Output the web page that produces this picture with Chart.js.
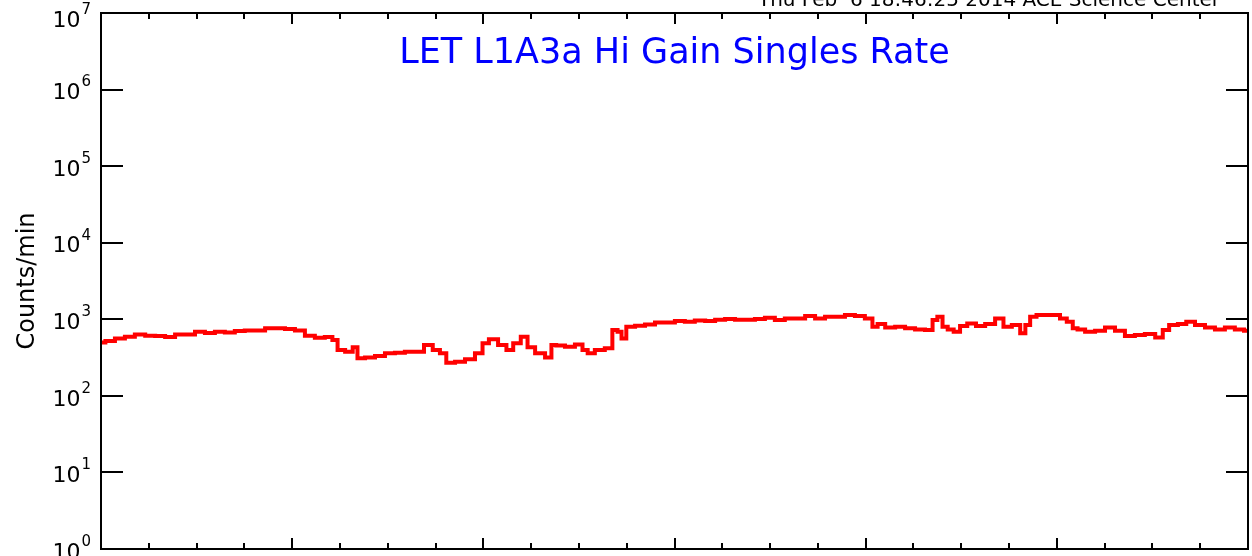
<!DOCTYPE html>
<html>
<head>
<meta charset="utf-8">
<script src="https://cdn.jsdelivr.net/npm/chart.js@4"></script>
<style>
  body { margin: 0; background: #fff; }
  #wrap { width: 1252px; height: 556px; }
</style>
</head>
<body>
<div id="wrap"><canvas id="chart" width="1252" height="556"></canvas></div>
<script>
/* hours since start of plot window */
const hours = [
  0, 1.1, 2.4, 3.6, 4.9, 6.2, 7.4, 8.7, 9.9, 11.2, 12.4, 13.7, 14.9, 16.2, 17.4, 18.7,
  20.0, 21.2, 22.5, 23.7, 25.0, 26.2, 27.5, 28.7, 29.4, 30.0, 31.3, 31.9, 32.5, 33.8,
  35.0, 36.3, 37.5, 38.8, 40.0, 41.1, 42.2, 42.9, 43.8, 45.1, 46.3, 47.6, 48.2, 49.2,
  50.5, 51.3, 52.2, 53.2, 53.9, 55.1, 56.4, 56.7, 57.6, 58.9, 60.1, 60.8, 61.4, 62.6,
  63.9, 64.5, 65.2, 65.5, 66.4, 67.7, 68.9, 70.2, 71.4, 72.7, 73.9, 75.2, 76.5, 77.7,
  79.0, 80.2, 81.5, 82.7, 84.0, 85.2, 86.5, 87.8, 89.0, 90.3, 91.5, 92.8, 94.0, 95.3,
  96.5, 97.2, 97.8, 99.1, 100.3, 101.6, 102.8, 104.1, 104.7, 105.3, 106.0, 106.6, 107.5,
  108.2, 109.3, 110.4, 111.6, 112.9, 113.7, 115.0, 115.8, 116.3, 117.0, 117.9, 119.1,
  120.0, 120.8, 121.7, 122.3, 122.9, 124.2, 125.4, 126.7, 127.9, 129.2, 130.4, 131.7,
  133.0, 133.6, 134.6, 135.8, 136.7, 138.0, 139.2, 140.5, 141.7, 143.0, 144.0
];
/* counts per minute */
const rates = [
  499, 519, 563, 591, 635, 609, 604, 586, 635, 635, 687, 660, 687, 674, 701, 716,
  716, 761, 761, 745, 716, 609, 574, 585, 535, 396, 376, 430, 309, 318,
  331, 359, 365, 376, 376, 460, 396, 359, 270, 279, 300, 359, 485, 547,
  460, 396, 485, 591, 430, 359, 318, 460, 455, 438, 470, 396, 359, 396,
  417, 723, 687, 563, 798, 823, 858, 911, 911, 947, 928, 967, 947, 985,
  1006, 985, 985, 1006, 1046, 976, 1027, 1027, 1101, 1027, 1078, 1078, 1134, 1101,
  1027, 798, 866, 784, 798, 761, 738, 723, 976, 1078, 798, 738, 687,
  815, 884, 815, 866, 1027, 798, 840, 655, 840, 1078, 1134, 1134,
  1134, 1027, 928, 761, 738, 687, 708, 784, 708, 604, 622, 641,
  580, 723, 840, 866, 928, 840, 784, 738, 784, 738, 708
];
const decades = [0, 1, 2, 3, 4, 5, 6, 7];
const xMajor = [0, 24, 48, 72, 96, 120, 144];
const xMinor = [6, 12, 18, 30, 36, 42, 54, 60, 66, 78, 84, 90, 102, 108, 114, 126, 132, 138];
const titleText = "LET L1A3a Hi Gain Singles Rate";
const yTitle = "Counts/min";
const stampText = "Thu Feb  6 18:46:25 2014 ACE Science Center";

/* frame, ticks and labels drawn from the chart's scales */
const framePlugin = {
  id: "frame",
  afterDraw(chart) {
    const ctx = chart.ctx;
    const a = chart.chartArea;
    const xs = chart.scales.x;
    const ys = chart.scales.y;
    ctx.save();
    ctx.strokeStyle = "#000";
    ctx.lineWidth = 2;
    ctx.strokeRect(a.left, a.top, a.right - a.left, a.bottom - a.top);

    ctx.beginPath();
    decades.forEach((d) => {
      const y = Math.round(ys.getPixelForValue(Math.pow(10, d)));
      ctx.moveTo(a.left, y); ctx.lineTo(a.left + 22, y);
      ctx.moveTo(a.right, y); ctx.lineTo(a.right - 22, y);
    });
    xMajor.forEach((h) => {
      const x = Math.round(xs.getPixelForValue(h));
      ctx.moveTo(x, a.bottom); ctx.lineTo(x, a.bottom - 11);
      ctx.moveTo(x, a.top); ctx.lineTo(x, a.top + 11);
    });
    xMinor.forEach((h) => {
      const x = Math.round(xs.getPixelForValue(h));
      ctx.moveTo(x, a.bottom); ctx.lineTo(x, a.bottom - 6);
      ctx.moveTo(x, a.top); ctx.lineTo(x, a.top + 6);
    });
    ctx.stroke();

    /* y tick labels 10^n */
    ctx.fillStyle = "#000";
    ctx.textBaseline = "middle";
    decades.forEach((d) => {
      const y = Math.max(ys.getPixelForValue(Math.pow(10, d)) + 4, 21);
      ctx.font = "15px 'DejaVu Sans'";
      ctx.textAlign = "right";
      const ew = ctx.measureText(String(d)).width;
      ctx.fillText(String(d), a.left - 10, y - 11);
      ctx.font = "22px 'DejaVu Sans'";
      ctx.fillText("10", a.left - 11 - ew, y);
    });

    /* axis title */
    ctx.save();
    ctx.translate(34, (a.top + a.bottom) / 2);
    ctx.rotate(-Math.PI / 2);
    ctx.textAlign = "center";
    ctx.textBaseline = "alphabetic";
    ctx.font = "24px 'DejaVu Sans'";
    ctx.fillText(yTitle, 0, 0);
    ctx.restore();

    /* plot title */
    ctx.fillStyle = "#0000ff";
    ctx.textAlign = "center";
    ctx.textBaseline = "alphabetic";
    ctx.font = "35px 'DejaVu Sans'";
    ctx.fillText(titleText, (a.left + a.right) / 2, 63);

    /* time stamp, cut by the top edge */
    ctx.fillStyle = "#000";
    ctx.textAlign = "right";
    ctx.font = "20px 'DejaVu Sans'";
    ctx.fillText(stampText, 1220, 6);
    ctx.restore();
  }
};

const points = hours.map((h, i) => ({ x: h, y: rates[i] }));

new Chart(document.getElementById("chart"), {
  type: "line",
  data: {
    datasets: [{
      data: points,
      borderColor: "#ff0000",
      borderWidth: 4,
      pointRadius: 0,
      stepped: "middle",
      fill: false
    }]
  },
  options: {
    responsive: false,
    animation: false,
    layout: { padding: { left: 101, top: 13, right: 4, bottom: 7 } },
    plugins: { legend: { display: false }, tooltip: { enabled: false } },
    scales: {
      x: { type: "linear", min: 0, max: 144, display: false },
      y: { type: "logarithmic", min: 1, max: 1e7, display: false }
    }
  },
  plugins: [framePlugin]
});
</script>
</body>
</html>
